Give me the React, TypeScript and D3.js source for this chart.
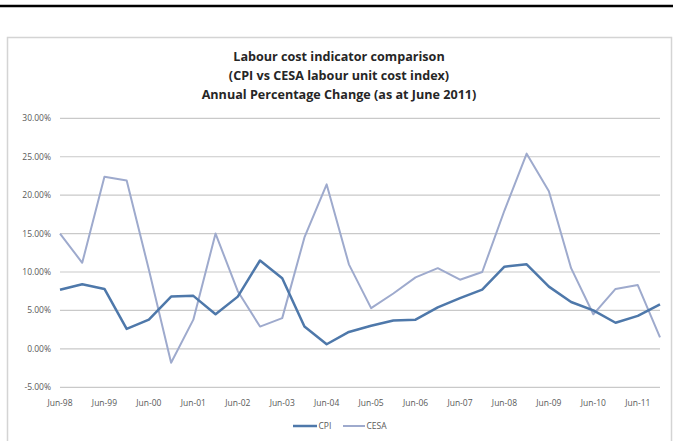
import React from "react";
import * as d3 from "d3";

const categories = [
  "Jun-98", "Dec-98", "Jun-99", "Dec-99", "Jun-00", "Dec-00", "Jun-01", "Dec-01",
  "Jun-02", "Dec-02", "Jun-03", "Dec-03", "Jun-04", "Dec-04", "Jun-05", "Dec-05",
  "Jun-06", "Dec-06", "Jun-07", "Dec-07", "Jun-08", "Dec-08", "Jun-09", "Dec-09",
  "Jun-10", "Dec-10", "Jun-11", "Dec-11",
];
const cpi = [
  7.7, 8.4, 7.8, 2.6, 3.8, 6.8, 6.9, 4.5, 6.8, 11.5, 9.2, 2.9, 0.6, 2.2,
  3.0, 3.7, 3.8, 5.4, 6.6, 7.7, 10.7, 11.0, 8.1, 6.1, 5.0, 3.4, 4.3, 5.8,
];
const cesa = [
  15.0, 11.2, 22.4, 21.9, 10.3, -1.8, 3.8, 15.0, 7.5, 2.9, 4.0, 14.5, 21.4, 11.0,
  5.3, 7.2, 9.3, 10.5, 9.0, 10.0, 18.0, 25.4, 20.5, 10.5, 4.5, 7.8, 8.3, 1.5,
];
const yTicks = [-5, 0, 5, 10, 15, 20, 25, 30];
const xTickLabels = [
  "Jun-98", "Jun-99", "Jun-00", "Jun-01", "Jun-02", "Jun-03", "Jun-04",
  "Jun-05", "Jun-06", "Jun-07", "Jun-08", "Jun-09", "Jun-10", "Jun-11",
];
const titleLines = [
  "Labour cost indicator comparison",
  "(CPI vs CESA labour unit cost index)",
  "Annual Percentage Change (as at June 2011)",
];
const seriesNames = ["CPI", "CESA"];

const W = 673;
const H = 441;
const font = "'Open Sans', 'Liberation Sans', sans-serif";

export default function App() {
  const x = d3.scalePoint<string>().domain(categories).range([60, 660]);
  const y = d3.scaleLinear().domain([-5, 30]).range([387.3, 118.3]);
  const line = d3
    .line<number>()
    .x((_, i) => x(categories[i]) as number)
    .y((d) => y(d));

  const cpiColor = "#4e78aa";
  const cesaColor = "#9eaacd";

  return (
    <svg
      width={W}
      height={H}
      style={{ position: "absolute", left: 0, top: 0, background: "#fff" }}
    >
      <rect x={0} y={0} width={W} height={H} fill="#fff" />
      <line x1={0} x2={W} y1={6} y2={6} stroke="#000" strokeWidth={2.5} />
      {/* chart frame */}
      <rect
        x={7.5}
        y={37.5}
        width={664}
        height={420}
        fill="#fff"
        stroke="#d4d4d4"
        strokeWidth={1.5}
      />
      {/* title */}
      <g fontFamily={font} fontWeight="bold" fontSize={12.6} fill="#262626" textAnchor="middle">
        {titleLines.map((t, i) => (
          <text key={t} x={339} y={60.5 + i * 19}>
            {t}
          </text>
        ))}
      </g>
      {/* gridlines */}
      {yTicks.map((t) => (
        <line
          key={t}
          x1={60}
          x2={660}
          y1={y(t)}
          y2={y(t)}
          stroke="#c9c9c9"
          strokeWidth={1.2}
        />
      ))}
      {/* y labels */}
      <g fontFamily={font} fontSize={8.5} fill="#595959" textAnchor="end">
        {yTicks.map((t) => (
          <text key={t} x={51} y={y(t) + 3}>
            {t.toFixed(2) + "%"}
          </text>
        ))}
      </g>
      {/* x labels */}
      <g fontFamily={font} fontSize={8.5} fill="#595959" textAnchor="middle">
        {xTickLabels.map((t) => (
          <text key={t} x={x(t) as number} y={406}>
            {t}
          </text>
        ))}
      </g>
      {/* series */}
      <path d={line(cesa) || ""} fill="none" stroke={cesaColor} strokeWidth={2} strokeLinejoin="round" />
      <path d={line(cpi) || ""} fill="none" stroke={cpiColor} strokeWidth={2.5} strokeLinejoin="round" />
      {/* legend */}
      <g fontFamily={font} fontSize={8.5} fill="#595959">
        <line x1={293} x2={317} y1={426} y2={426} stroke={cpiColor} strokeWidth={2.5} />
        <text x={318.5} y={429}>{seriesNames[0]}</text>
        <line x1={343} x2={365} y1={426} y2={426} stroke={cesaColor} strokeWidth={2} />
        <text x={366.5} y={429}>{seriesNames[1]}</text>
      </g>
    </svg>
  );
}
